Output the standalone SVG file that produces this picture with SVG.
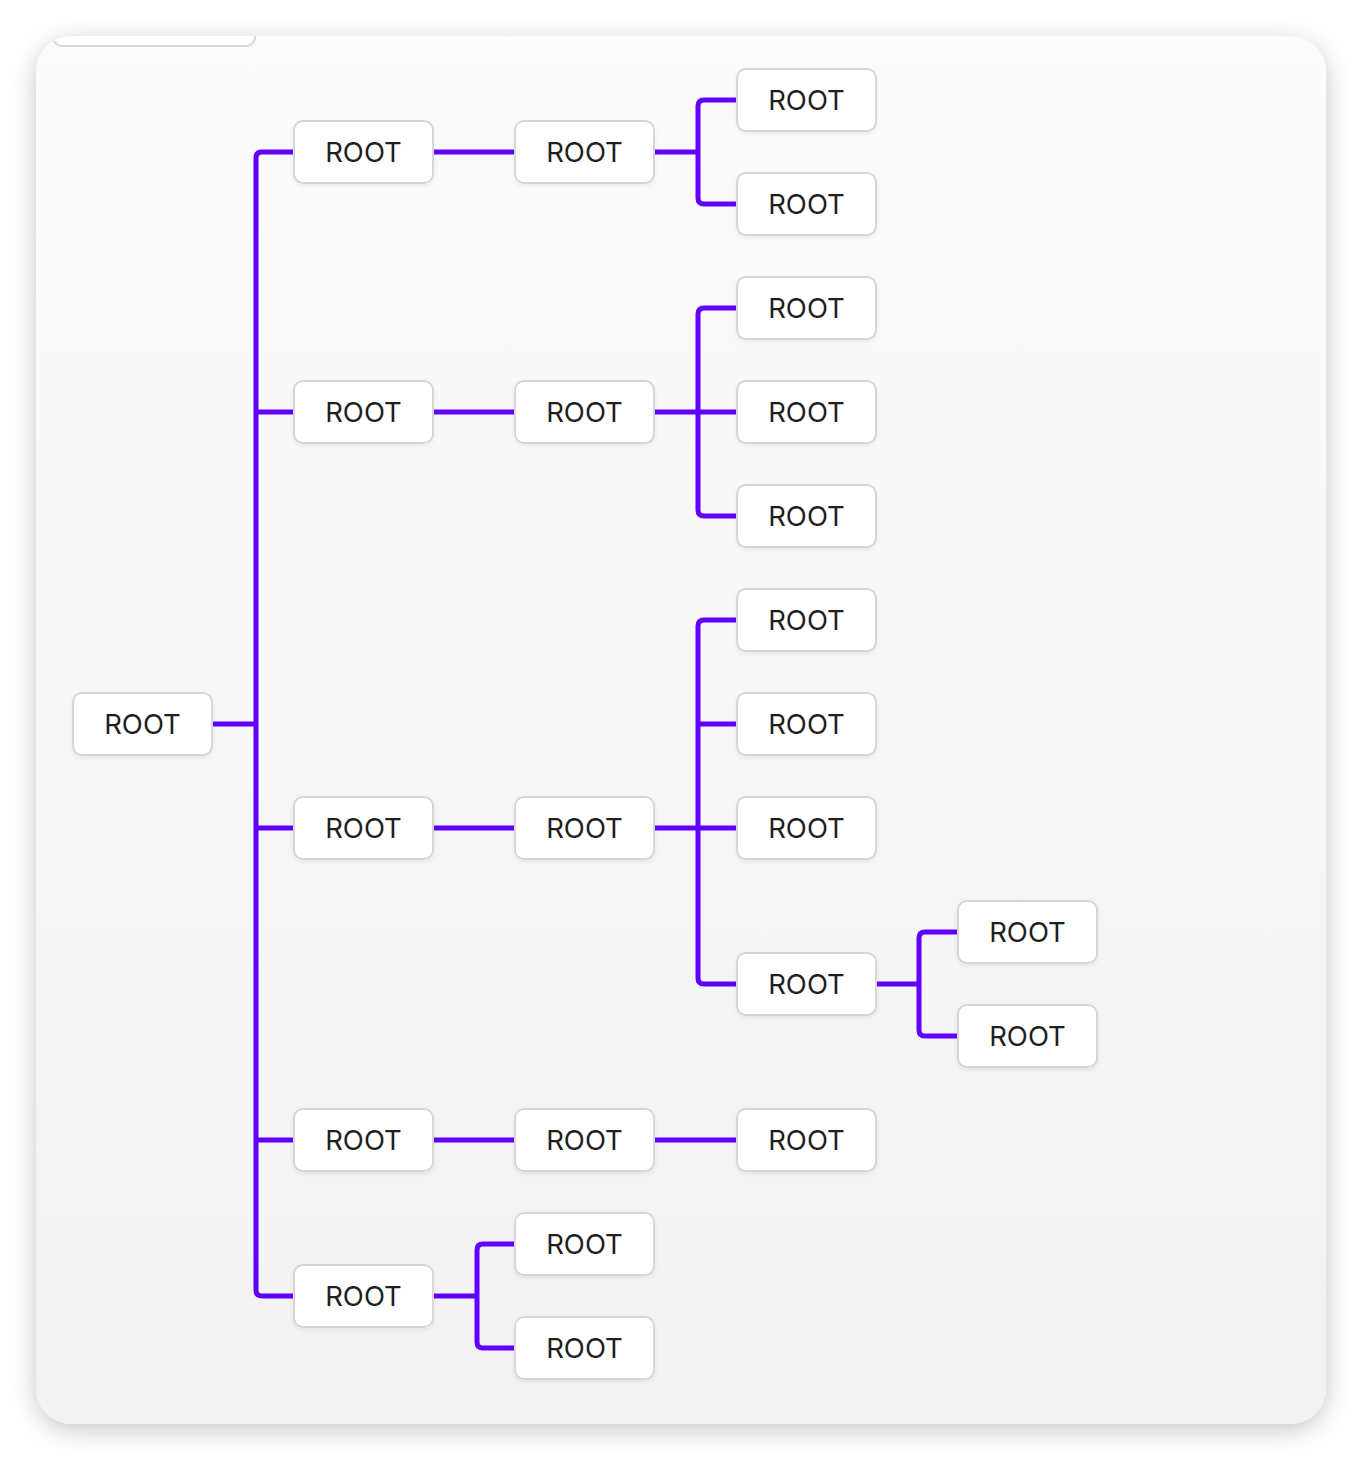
<svg xmlns="http://www.w3.org/2000/svg" width="1362" height="1460" viewBox="0 0 1362 1460">
<defs>
<linearGradient id="bg" x1="0" y1="0" x2="0" y2="1">
<stop offset="0" stop-color="#fbfbfb"/>
<stop offset="1" stop-color="#f2f2f2"/>
</linearGradient>
<filter id="cardShadow" x="-10%" y="-10%" width="120%" height="120%">
<feDropShadow dx="0" dy="6" stdDeviation="12" flood-color="#000" flood-opacity="0.22"/>
</filter>
<filter id="nodeShadow" x="-20%" y="-20%" width="140%" height="160%">
<feDropShadow dx="0" dy="2" stdDeviation="2" flood-color="#000" flood-opacity="0.06"/>
</filter>
<clipPath id="cardClip"><rect x="36" y="36" width="1290" height="1388" rx="36"/></clipPath>
</defs>
<style>
.node rect{fill:#fff;stroke:#d6d6d6;stroke-width:2;filter:url(#nodeShadow)}
.node text{font-family:Inter,"Noto Sans","Liberation Sans",sans-serif;font-size:27.5px;fill:#1f1f1f;text-anchor:middle;dominant-baseline:central}
.edge{fill:none;stroke:#6000ff;stroke-width:5;stroke-linejoin:round}
</style>
<rect x="36" y="36" width="1290" height="1388" rx="36" fill="url(#bg)" filter="url(#cardShadow)"/>
<g clip-path="url(#cardClip)">
<rect x="53" y="-20" width="202" height="66" rx="9" fill="#fff" stroke="#d6d6d6" stroke-width="2"/>
</g>
<g id="connectors">
<path class="edge" d="M213 724 H256"/>
<path class="edge" d="M293 152 H262 Q256 152 256 158 V1290 Q256 1296 262 1296 H293"/>
<path class="edge" d="M256 412 H293 M256 828 H293 M256 1140 H293"/>
<path class="edge" d="M434 152 H514 M434 412 H514 M434 828 H514 M434 1140 H514 M655 1140 H736"/>
<path class="edge" d="M655 152 H698"/>
<path class="edge" d="M736 100 H704 Q698 100 698 106 V198 Q698 204 704 204 H736"/>
<path class="edge" d="M655 412 H736"/>
<path class="edge" d="M736 308 H704 Q698 308 698 314 V510 Q698 516 704 516 H736"/>
<path class="edge" d="M655 828 H736 M698 724 H736"/>
<path class="edge" d="M736 620 H704 Q698 620 698 626 V978 Q698 984 704 984 H736"/>
<path class="edge" d="M434 1296 H477"/>
<path class="edge" d="M514 1244 H483 Q477 1244 477 1250 V1342 Q477 1348 483 1348 H514"/>
<path class="edge" d="M877 984 H919"/>
<path class="edge" d="M957 932 H925 Q919 932 919 938 V1030 Q919 1036 925 1036 H957"/>
</g>
<g id="n0" class="node"><rect x="73" y="693" width="139" height="62" rx="9"/><text x="142.5" y="723.5">ROOT</text></g>
<g id="n1" class="node"><rect x="294" y="121" width="139" height="62" rx="9"/><text x="363.5" y="151.5">ROOT</text></g>
<g id="n2" class="node"><rect x="294" y="381" width="139" height="62" rx="9"/><text x="363.5" y="411.5">ROOT</text></g>
<g id="n3" class="node"><rect x="294" y="797" width="139" height="62" rx="9"/><text x="363.5" y="827.5">ROOT</text></g>
<g id="n4" class="node"><rect x="294" y="1109" width="139" height="62" rx="9"/><text x="363.5" y="1139.5">ROOT</text></g>
<g id="n5" class="node"><rect x="294" y="1265" width="139" height="62" rx="9"/><text x="363.5" y="1295.5">ROOT</text></g>
<g id="n6" class="node"><rect x="515" y="121" width="139" height="62" rx="9"/><text x="584.5" y="151.5">ROOT</text></g>
<g id="n7" class="node"><rect x="515" y="381" width="139" height="62" rx="9"/><text x="584.5" y="411.5">ROOT</text></g>
<g id="n8" class="node"><rect x="515" y="797" width="139" height="62" rx="9"/><text x="584.5" y="827.5">ROOT</text></g>
<g id="n9" class="node"><rect x="515" y="1109" width="139" height="62" rx="9"/><text x="584.5" y="1139.5">ROOT</text></g>
<g id="n10" class="node"><rect x="515" y="1213" width="139" height="62" rx="9"/><text x="584.5" y="1243.5">ROOT</text></g>
<g id="n11" class="node"><rect x="515" y="1317" width="139" height="62" rx="9"/><text x="584.5" y="1347.5">ROOT</text></g>
<g id="n12" class="node"><rect x="737" y="69" width="139" height="62" rx="9"/><text x="806.5" y="99.5">ROOT</text></g>
<g id="n13" class="node"><rect x="737" y="173" width="139" height="62" rx="9"/><text x="806.5" y="203.5">ROOT</text></g>
<g id="n14" class="node"><rect x="737" y="277" width="139" height="62" rx="9"/><text x="806.5" y="307.5">ROOT</text></g>
<g id="n15" class="node"><rect x="737" y="381" width="139" height="62" rx="9"/><text x="806.5" y="411.5">ROOT</text></g>
<g id="n16" class="node"><rect x="737" y="485" width="139" height="62" rx="9"/><text x="806.5" y="515.5">ROOT</text></g>
<g id="n17" class="node"><rect x="737" y="589" width="139" height="62" rx="9"/><text x="806.5" y="619.5">ROOT</text></g>
<g id="n18" class="node"><rect x="737" y="693" width="139" height="62" rx="9"/><text x="806.5" y="723.5">ROOT</text></g>
<g id="n19" class="node"><rect x="737" y="797" width="139" height="62" rx="9"/><text x="806.5" y="827.5">ROOT</text></g>
<g id="n20" class="node"><rect x="737" y="953" width="139" height="62" rx="9"/><text x="806.5" y="983.5">ROOT</text></g>
<g id="n21" class="node"><rect x="737" y="1109" width="139" height="62" rx="9"/><text x="806.5" y="1139.5">ROOT</text></g>
<g id="n22" class="node"><rect x="958" y="901" width="139" height="62" rx="9"/><text x="1027.5" y="931.5">ROOT</text></g>
<g id="n23" class="node"><rect x="958" y="1005" width="139" height="62" rx="9"/><text x="1027.5" y="1035.5">ROOT</text></g>
</svg>
